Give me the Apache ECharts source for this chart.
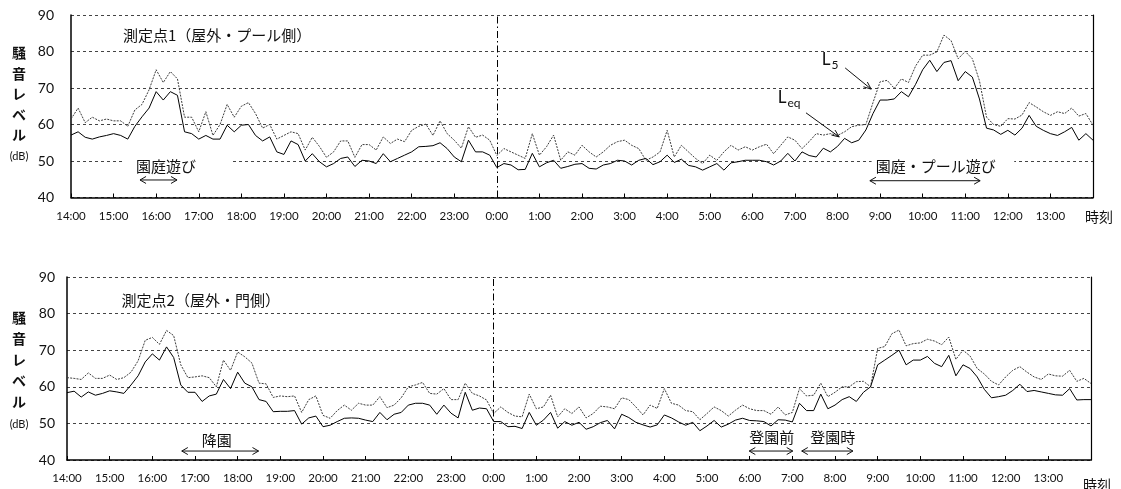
<!DOCTYPE html>
<html><head><meta charset="utf-8">
<script src="https://cdn.jsdelivr.net/npm/echarts@6/dist/echarts.min.js"></script>
<style>html,body{margin:0;padding:0;background:#fff}#c{width:1121px;height:489px}</style>
</head><body><div id="c"></div>
<script>
// hour tick labels (x axis runs 14:00 -> 14:00 next day)
const hourLabels = ['14:00','15:00','16:00','17:00','18:00','19:00','20:00','21:00','22:00','23:00',
  '0:00','1:00','2:00','3:00','4:00','5:00','6:00','7:00','8:00','9:00','10:00','11:00','12:00','13:00'];
const stepMinutes = 10;
const titles = ['測定点1（屋外・プール側）', '測定点2（屋外・門側）'];

// 測定点1  L5 (dotted) and Leq (solid), every 10 min from 14:00
const l5_p1 = [61.5,64.5,60.5,62,61,61.5,
 61,61,59.5,64,65.5,69.5,
 75,71.5,74.5,72.5,62,62,
 58,63.5,57,60,65.5,62,
 65,66,63,59,60,56,
 57,58,57.5,53,56.5,54,
 51,52.5,55.5,55.5,51,54.5,
 54.5,53,56.6,54.8,56,55.3,
 58.4,59.5,60.1,57,61,57.5,
 55.7,53.5,59.4,56.5,57.1,55.7,
 51.5,53.4,52.5,51.6,50.7,57.5,
 51.6,53.9,57.1,50.2,52.5,51.6,
 54.3,52.5,51.1,52.5,54.3,55.3,
 55.7,54.3,53.4,50.2,51.1,52.5,
 58.4,51.1,54.3,52.5,50.7,49.3,
 51.6,50.2,52.5,54.3,53,53.9,
 53,53.9,54.6,52,54.3,56.6,
 55.7,53.4,55.3,57.5,57.1,57.5,
 57,58,59.4,59.8,60,66,
 71.7,72.1,69.9,72.5,71.5,76,
 79,79,79.9,84.5,83,78,
 80,78,72,62,60,59.5,
 61.6,61.5,62.6,66,64.8,63.5,
 62.5,63.5,63,64.5,62.3,63,
 59.8];
const leq_p1 = [57.1,58,56.5,56,56.6,57,
 57.5,57,56,59.5,62.1,64.5,
 69,66.7,69,68,58,57.5,
 56,57,56,56,59.8,58,
 59.8,60,57,55.5,56.6,52.5,
 51.8,55.5,54.5,50,52,49.8,
 48.4,49.3,50.7,51.1,48.5,50.2,
 50,49.3,52,49.8,50.7,51.6,
 52.5,53.9,54,54.2,55,53.4,
 51.1,49.8,55.7,52.5,52.5,51.6,
 48.2,49.3,48.9,47.6,47.7,52.1,
 48.4,49.5,50.2,48,48.5,49.1,
 49.3,48,47.8,48.9,49.3,50.2,
 50,48.9,50.2,50.7,49,49.8,
 51.6,49.6,50.5,48.8,48.4,47.5,
 48.4,49.3,47.5,49.5,49.8,50.2,
 50.2,50.2,49.8,48.9,50,52.1,
 50,52.5,51.5,51.1,53.5,52.5,
 54,56.2,55,55.7,58.5,63,
 66.7,66.7,67,69,67.6,71,
 75,77.6,74.5,77,77.5,72,
 74.5,73,67,59,58.5,57.3,
 58.4,57.1,59,62.5,59.5,58.4,
 57.5,57,58,59.2,55.7,57.5,
 55.7];

// 測定点2
const l5_p2 = [62.5,62.3,62,63.8,62.3,62.3,
 63.2,62,62.5,64,67.1,72.7,
 73.5,71.6,75.4,74,66,62.5,
 62.7,63,62.5,60,67.3,64.5,
 69.5,68.2,66.5,61,60.8,57.1,
 57.5,57.3,57.5,53,56.5,57.5,
 52.2,51.4,53.5,55,53.6,55.5,
 55,55,57.3,54.3,55,57,
 60,60.5,61.2,58.2,58,59.5,
 56.5,56.5,61,58.2,57.5,56.4,
 52.7,54.5,53,52,51.8,58,
 54,54.5,57.7,51.8,54,52.7,
 54.5,51.5,52.7,54.7,54.5,54,
 57,56.5,54.5,52.3,55,54.1,
 59.5,55.5,55,53.5,53.2,51,
 52.7,54.5,53.5,52,53.6,55,
 54,53.5,53.5,52.5,54.5,52.3,
 53,59.5,57.5,57.7,61,57.3,
 58.5,60,60,61.4,61.5,60,
 70.5,71,74.5,75.5,71.2,71.8,
 72,73,72.5,71.5,73.6,67.5,
 70,68.4,65,63.5,61.5,60.5,
 62.7,64.5,65.5,64,62.7,62,
 63.5,63,62.9,64.5,61.5,62.3,
 60.9];
const leq_p2 = [58.4,58.8,57.2,58.6,57.7,58.2,
 58.9,58.6,58.2,60.5,63,66.8,
 69,67.3,70.9,68,60.5,58.5,
 58.5,56,57.5,58,62,59.5,
 64,61,60,56.5,56,53.2,
 53.3,53.3,53.5,49.8,51.5,52,
 49.1,49.5,50.5,51.4,51.5,51.4,
 50.9,50.5,53,51,52.5,53,
 55,55.5,55.5,55,52.5,55,
 52.8,51.5,58.5,53.6,54.2,54,
 50.5,50.5,49.1,49.2,48.6,53,
 49.5,50.9,53,48.7,50.5,49.5,
 50.3,48.4,49.1,50.2,50.8,48.5,
 52.5,51.6,50.3,49.6,49,49.6,
 52.3,51.5,50.4,49.5,50.3,48,
 49.3,50.8,49,49.8,50.9,51.4,
 50.8,50.7,50.5,49.3,51,50.9,
 50.4,55.5,53.5,53.5,58,54,
 55,56.5,57.3,56,58.5,60,
 66,67.3,68.6,70,66,67.3,
 67.3,68.3,66.4,65.5,68.6,63,
 66,65,62.7,59.3,57,57.3,
 57.7,59,60.7,58.7,59,58.6,
 58.2,57.8,57.7,59.5,56.4,56.5,
 56.5];

const NUM_FONT = 'Lato, "Liberation Sans", sans-serif';
const JP_FONT = '"Noto Sans CJK JP", sans-serif';
const toPairs = arr => arr.map((v, i) => [i * stepMinutes / 60, v]);
const midnight = hourLabels.indexOf('0:00');

const chart = echarts.init(document.getElementById('c'), null, {renderer: 'canvas'});

function xAxisCfg(g, margin) {
  return {
    type: 'value', gridIndex: g, min: 0, max: 24, interval: 1,
    axisLine: {show: true, lineStyle: {color: '#000', width: 1.5}},
    axisTick: {show: true, inside: true, length: 4, lineStyle: {color: '#000', width: 1}},
    axisLabel: {show: true, showMinLabel: true, showMaxLabel: true, margin: margin,
      formatter: v => hourLabels[v] !== undefined ? hourLabels[v] : '',
      fontSize: 11.5, color: '#111', fontFamily: NUM_FONT},
    splitLine: {show: false}
  };
}
function yLeftCfg(g, margin) {
  return {
    type: 'value', gridIndex: g, min: 40, max: 90, interval: 10, position: 'left',
    axisLine: {show: true, lineStyle: {color: '#000', width: 1.5}},
    axisTick: {show: false},
    axisLabel: {margin: margin, fontSize: 14, color: '#111', fontFamily: NUM_FONT},
    splitLine: {show: true, lineStyle: {color: '#444', type: [3, 3], width: 1}}
  };
}
function yRightCfg(g) {
  return {
    type: 'value', gridIndex: g, min: 40, max: 90, interval: 10, position: 'right',
    axisLine: {show: true, lineStyle: {color: '#000', width: 1.2}},
    axisTick: {show: false}, axisLabel: {show: false}, splitLine: {show: false}
  };
}
function seriesPair(g, l5, leq) {
  return [
    {name: 'L5', type: 'line', xAxisIndex: g, yAxisIndex: g, data: toPairs(l5),
     symbol: 'none', showSymbol: false, z: 3,
     lineStyle: {color: '#3c3c3c', width: 1, type: [2, 1.2]}},
    {name: 'Leq', type: 'line', xAxisIndex: g, yAxisIndex: g, data: toPairs(leq),
     symbol: 'none', showSymbol: false, z: 4,
     lineStyle: {color: '#000', width: 1},
     markLine: {silent: true, symbol: ['none', 'none'], label: {show: false},
       lineStyle: {color: '#000', width: 1, type: [7, 3, 1.5, 3]},
       data: [{xAxis: midnight}]}}
  ];
}

chart.setOption({
  animation: false,
  backgroundColor: '#fff',
  grid: [
    {left: 71, top: 15, width: 1022, height: 182.5},
    {left: 67, top: 277, width: 1024, height: 183}
  ],
  xAxis: [xAxisCfg(0, 13), xAxisCfg(1, 12)],
  yAxis: [yLeftCfg(0, 17), yLeftCfg(1, 12), yRightCfg(0), yRightCfg(1)],
  series: [...seriesPair(0, l5_p1, leq_p1), ...seriesPair(1, l5_p2, leq_p2)]
});

// ---------- annotations ----------
const P = (g, x, y) => chart.convertToPixel({xAxisIndex: g, yAxisIndex: g}, [x, y]);
const G = [];
function text(pt, str, font, align, extra) {
  G.push(Object.assign({type: 'text', z: 20, style: {text: str, x: pt[0], y: pt[1], font: font, fill: '#111',
    align: align || 'center', verticalAlign: 'middle', textAlign: align || 'center', textVerticalAlign: 'middle'}}, extra || {}));
}
function line(a, b) {
  G.push({type: 'line', z: 20, shape: {x1: a[0], y1: a[1], x2: b[0], y2: b[1]}, style: {stroke: '#111', lineWidth: 1}});
}
function head(tip, from, len, ang) {
  len = len || 7; ang = ang || Math.PI / 6;
  const dx = from[0] - tip[0], dy = from[1] - tip[1], d = Math.hypot(dx, dy);
  const ux = dx / d, uy = dy / d;
  const r = a => [tip[0] + len * (ux * Math.cos(a) - uy * Math.sin(a)), tip[1] + len * (ux * Math.sin(a) + uy * Math.cos(a))];
  G.push({type: 'polyline', z: 20, shape: {points: [r(ang), tip, r(-ang)]}, style: {stroke: '#111', lineWidth: 1, fill: 'none'}});
}
function dblArrow(a, b) { line(a, b); head(a, b); head(b, a); }
function arrow(a, b) { line(a, b); head(b, a, 8, Math.PI / 8); }
function whiteBox(g, x1, x2, y1, y2) {
  const p1 = P(g, x1, y1), p2 = P(g, x2, y2);
  G.push({type: 'rect', z: 15, shape: {x: p1[0], y: p1[1], width: p2[0] - p1[0], height: p2[1] - p1[1]}, style: {fill: '#fff'}});
}

const ANN = '15px ' + JP_FONT;
// panel titles
text(P(0, 1.22, 84.5), titles[0], '15px ' + JP_FONT, 'left');
text(P(1, 1.28, 83.6), titles[1], '15px ' + JP_FONT, 'left');

// top panel notes
whiteBox(0, 1.2, 3.8, 52.3, 46.6);
text(P(0, 2.23, 48.6), '園庭遊び', ANN);
dblArrow(P(0, 1.62, 44.8), P(0, 2.49, 44.8));
whiteBox(0, 18.8, 22.15, 52.3, 46.6);
text(P(0, 20.31, 48.6), '園庭・プール遊び', ANN);
dblArrow(P(0, 18.76, 44.6), P(0, 21.35, 44.6));
// L5 / Leq labels
text(P(0, 17.73, 77.7), 'L', '17px ' + NUM_FONT);
text(P(0, 17.94, 76.4), '5', '12px ' + NUM_FONT);
arrow(P(0, 18.18, 75.5), P(0, 18.79, 69.7));
text(P(0, 16.70, 67.3), 'L', '17px ' + NUM_FONT);
text(P(0, 16.98, 65.9), 'eq', '12px ' + NUM_FONT);
arrow(P(0, 17.26, 63.2), P(0, 18.04, 56.6));

// bottom panel notes
text(P(1, 3.51, 45.45), '降園', ANN);
dblArrow(P(1, 2.69, 42.45), P(1, 4.49, 42.45));
text(P(1, 16.52, 46.3), '登園前', ANN);
dblArrow(P(1, 15.99, 42.45), P(1, 17.01, 42.45));
text(P(1, 17.95, 46.3), '登園時', ANN);
dblArrow(P(1, 17.22, 42.45), P(1, 18.42, 42.45));

// axis names
[0, 1].forEach(g => {
  const end = P(g, 24, 40);
  text([end[0] + 6, end[1] + (g === 0 ? 19.5 : 25)], '時刻', '14px ' + JP_FONT);
  const top = P(g, 0, 80);
  const lh = g === 0 ? 20.5 : 21;
  const y0 = top[1] + (g === 0 ? 1.3 : 4);
  ['騒', '音', 'レ', 'ベ', 'ル'].forEach((ch, i) => text([19, y0 + i * lh], ch, 'bold 14px ' + JP_FONT));
  text([19, y0 + 5 * lh + 1.5], '(dB)', '11px ' + NUM_FONT);
});

chart.setOption({graphic: {elements: G}});
</script>
</body></html>
